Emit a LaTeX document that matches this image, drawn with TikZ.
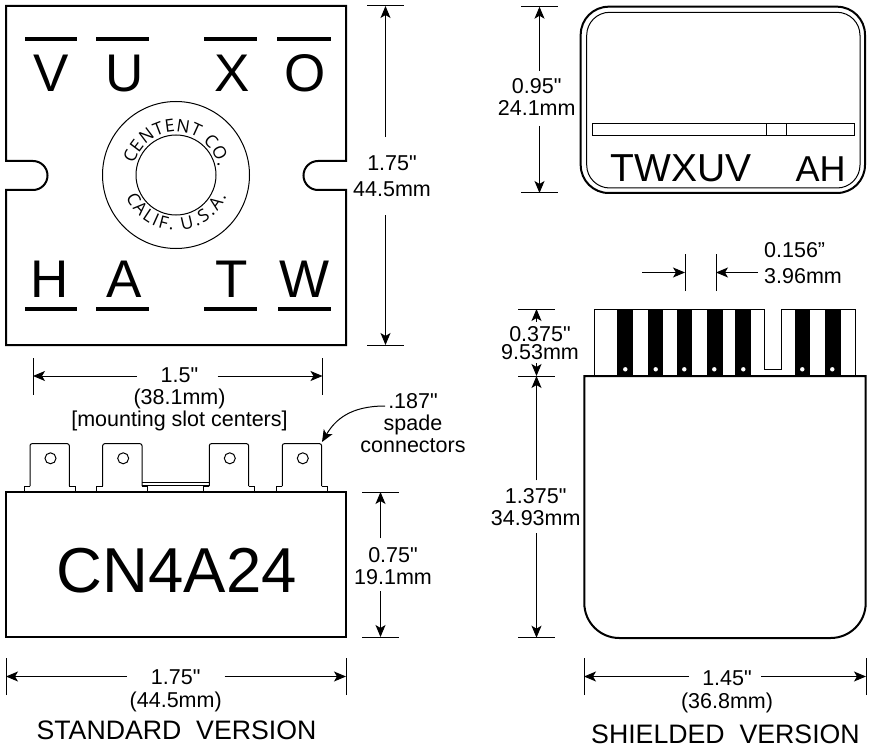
\documentclass[tikz,border=0pt]{standalone}
\usepackage{fontspec}
\setmainfont{Liberation Sans}[Ligatures=TeXOff]
\newfontfamily\sealfamily{Open Sans}
\newcommand{\sealfont}{\sealfamily\fontsize{17.5}{17.5}\selectfont}
\usetikzlibrary{arrows.meta,decorations.text}
\tikzset{
  outline/.style={line width=2pt},
  fineline/.style={line width=1pt},
  dimline/.style={->,line width=1pt},
  dimlabel/.style={font=\fontsize{21.5}{22}\selectfont,align=center,inner sep=0pt,anchor=base},
  termletter/.style={font=\fontsize{53}{53}\selectfont,inner sep=0pt,anchor=base},
  viewtitle/.style={font=\fontsize{26.7}{27}\selectfont,inner sep=0pt,anchor=base},
}
\begin{document}
\begin{tikzpicture}[>={Stealth[length=12pt,width=10pt,inset=3pt]},x=1pt,y=-1pt]
  \useasboundingbox (0,0) rectangle (871,749);

  % terminal plate, standard version
  \draw [outline] (6,6) -- (346,6) -- (346,161) -- (318,161)
    arc [start angle=90, end angle=270, radius=14.5pt] -- (346,190) -- (346,345)
    -- (6,345) -- (6,190) -- (33,190)
    arc [start angle=-90, end angle=90, radius=14.5pt] -- (6,161) -- cycle;
  \foreach \a/\b/\y in {25/77/39, 96/149/39, 204/257/39, 277/331/39,
                        25/77/309, 96/149/309, 204/257/309, 278/331/309}
    \draw [line width=4pt] (\a,\y) -- (\b,\y);
  \foreach \t/\x in {V/51, U/125, X/232, O/305}
    \node (top\t) [termletter] at (\x,92) {\t};
  \foreach \t/\x in {H/50, A/124, T/232, W/305}
    \node (bot\t) [termletter] at (\x,297) {\t};

  % seal
  \coordinate (seal) at (176,175);
  \draw [fineline] (seal) circle [radius=73.5pt];
  \draw [fineline] (seal) circle [radius=40pt];
  \path [decorate, decoration={text along path, text align=fit to path,
      text={|\sealfont|CENTENT CO.}}]
    ([shift={(165:43pt)}]seal) arc [start angle=165, end angle=11, radius=43pt];
  \path [decorate, decoration={text along path, text align=fit to path,
      text={|\sealfont|CALIF. U.S.A.}}]
    ([shift={(204:55pt)}]seal) arc [start angle=204, end angle=337, radius=55pt];

  % side view, standard version
  \foreach \x in {30,102.7,209.3,282.3} {
    \draw [fineline, rounded corners=2pt] (\x,486) -- (\x,443.7)
      -- (\x+39.3,443.7) -- (\x+39.3,486);
    \draw [fineline] (\x,486) -- (\x-6,486) -- (\x-6,492);
    \draw [fineline] (\x+39.3,486) -- (\x+45,486) -- (\x+45,492);
    \draw [fineline] (\x+20.5,458.3) circle [radius=5.5pt];
  }
  \draw [fineline] (142,482) -- (209.3,482);
  \draw [fineline] (142,485) -- (209.3,485);
  \draw [outline] (6,492) rectangle (346,637);
  \node (partno) [font=\fontsize{63.5}{64}\selectfont,inner sep=0pt,anchor=base]
    at (177,592) {CN4A24};

  % end view, shielded version
  \draw [outline, rounded corners=28pt] (580.7,6.7) rectangle (865,193);
  \draw [fineline, rounded corners=23pt] (586.7,12.3) rectangle (860,188);
  \draw [fineline] (592,124) rectangle (854.3,135.3);
  \draw [fineline] (766,124) -- (766,135.3);
  \draw [fineline] (786,124) -- (786,135.3);
  \node (termsl) [font=\fontsize{39}{39}\selectfont,inner sep=0pt,anchor=base]
    at (681,182) {TWXUV};
  \node (termsr) [font=\fontsize{36}{36}\selectfont,inner sep=0pt,anchor=base]
    at (820.5,182) {AH};

  % side view, shielded version
  \draw [fineline] (594.7,376) -- (594.7,309) -- (764,309) -- (764,369.3)
    -- (781.7,369.3) -- (781.7,309) -- (855.3,309) -- (855.3,376);
  \foreach \x/\d in {617.3/625.3, 647.7/655.7, 676.7/684.3, 707/714.3,
                     735.3/743.3, 794.7/802.3, 825/832.3} {
    \fill (\x,309) rectangle (\x+15.7,376);
    \fill [white] (\d,369.3) circle [radius=2.2pt];
  }
  \draw [outline] (584.3,376) -- (584.3,603)
    arc [start angle=180, end angle=270, radius=35pt] -- (830.7,638)
    arc [start angle=270, end angle=360, radius=35pt] -- (865.7,376) -- cycle;

  % dimension ends
  \coordinate (platetop) at (385.5,6);
  \coordinate (platebot) at (385.5,345);
  \coordinate (casetop) at (380.5,492);
  \coordinate (casebot) at (380.5,637);
  \coordinate (shelltop) at (539.5,6.7);
  \coordinate (shellbot) at (539.5,193);
  \coordinate (blocktop) at (536.5,309);
  \coordinate (blockbot) at (536.5,376);
  \coordinate (bodybot) at (536.5,637.7);
  \coordinate (spanleft) at (33,376);
  \coordinate (spanright) at (322.5,376);
  \coordinate (widthleft) at (6,676.5);
  \coordinate (widthright) at (346,676.5);
  \coordinate (bodyleft) at (584,676.5);
  \coordinate (bodyright) at (866,676.5);
  \coordinate (pitchleft) at (685,272.5);
  \coordinate (pitchright) at (716,272.5);
  \coordinate (pitchfree) at (642.3,272.5);
  \coordinate (leader) at (385,406);
  \coordinate (spadetip) at (322,442);

  \foreach \c in {platetop,platebot,casetop,casebot,shelltop,shellbot,blocktop,blockbot,bodybot}
    \draw [fineline] ([xshift=-18.5pt]\c) -- ([xshift=18.5pt]\c);
  \foreach \c in {spanleft,spanright,widthleft,widthright,bodyleft,bodyright,pitchleft,pitchright}
    \draw [fineline] ([yshift=-18.5pt]\c) -- ([yshift=18.5pt]\c);

  % dimension labels
  \node (dimplate) [dimlabel] at (392,196.7) {1.75"\\[4pt]44.5mm};
  \node (dimspan) [dimlabel] at (179.5,426) {1.5"\\(38.1mm)\\{}[mounting slot centers]};
  \node (dimspade) [dimlabel] at (413,452.7) {.187"\\spade\\connectors};
  \node (dimcase) [dimlabel] at (393,584) {0.75"\\19.1mm};
  \node (dimwidth) [dimlabel] at (175.7,707) {1.75"\\[1pt](44.5mm)};
  \node (dimshell) [dimlabel] at (536.7,116) {0.95"\\24.1mm};
  \node (dimpitch) [dimlabel,align=left,anchor=base west] at (764,283.3) {0.156”\\[4pt]3.96mm};
  \node (dimblock) [dimlabel] at (540,359.3) {0.375"\\[-3.7pt]9.53mm};
  \node (dimbody) [dimlabel] at (535.7,525) {1.375"\\34.93mm};
  \node (dimshield) [dimlabel] at (727,708.3) {1.45"\\[0.5pt](36.8mm)};
  \node (titlestd) [viewtitle] at (176.5,739) {STANDARD\ \ VERSION};
  \node (titleshd) [viewtitle] at (725.5,743.3) {SHIELDED\ \ VERSION};

  % dimension arrows
  \draw [dimline, shorten <=18.5pt] (dimplate.north -| platetop) -- (platetop);
  \draw [dimline, shorten <=18.3pt] (dimplate.south -| platebot) -- (platebot);
  \draw [dimline, shorten <=8.5pt] (dimcase.north -| casetop) -- (casetop);
  \draw [dimline, shorten <=6.7pt] (dimcase.south -| casebot) -- (casebot);
  \draw [dimline, shorten <=8pt] (dimshell.north -| shelltop) -- (shelltop);
  \draw [dimline, shorten <=9.7pt] (dimshell.south -| shellbot) -- (shellbot);
  \draw [dimline, shorten <=4pt] (dimblock.north -| blocktop) -- (blocktop);
  \draw [dimline, shorten <=3.7pt] (dimblock.south -| blockbot) -- (blockbot);
  \draw [dimline, shorten <=7.5pt] (dimbody.north -| blockbot) -- (blockbot);
  \draw [dimline, shorten <=7.7pt] (dimbody.south -| bodybot) -- (bodybot);
  \draw [dimline, shorten <=42.5pt] (dimspan.center |- spanleft) -- (spanleft);
  \draw [dimline, shorten <=38.2pt] (dimspan.center |- spanright) -- (spanright);
  \draw [dimline, shorten <=48.7pt] (dimwidth.center |- widthleft) -- (widthleft);
  \draw [dimline, shorten <=48.8pt] (dimwidth.center |- widthright) -- (widthright);
  \draw [dimline, shorten <=38pt] (dimshield.center |- bodyleft) -- (bodyleft);
  \draw [dimline, shorten <=34pt] (dimshield.center |- bodyright) -- (bodyright);
  \draw [dimline] (pitchfree) -- (pitchleft);
  \draw [dimline, shorten <=6pt] (dimpitch.west |- pitchright) -- (pitchright);
  \draw [dimline] (leader) .. controls (350,406) and (335,420) .. (spadetip);
\end{tikzpicture}
\end{document}
